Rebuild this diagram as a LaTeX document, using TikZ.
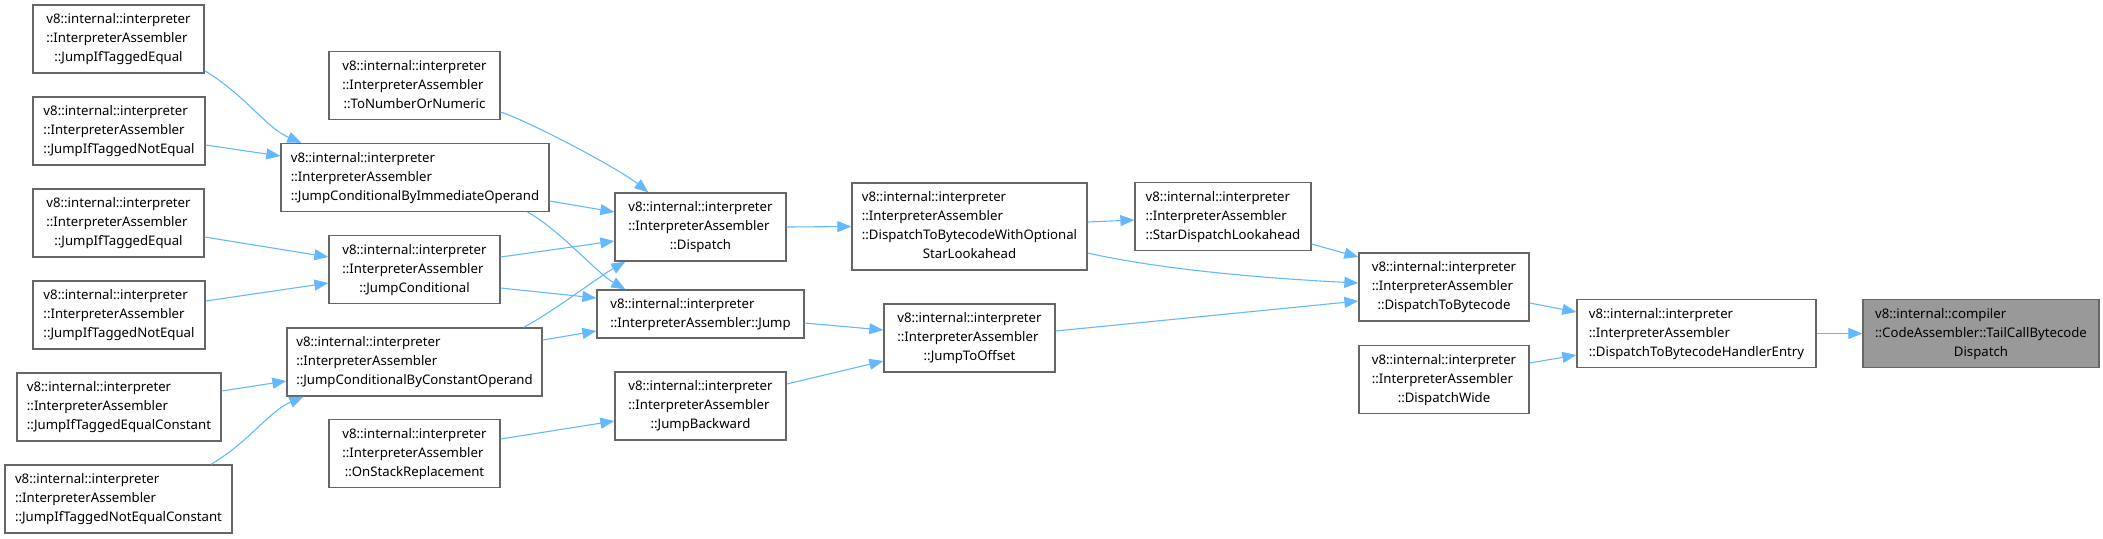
\documentclass[tikz,border=0pt]{standalone}
\usepackage{fontspec}
\setmainfont{Noto Sans}
\usepackage{tikz}
\usetikzlibrary{arrows.meta, calc}
\definecolor{edgeblue}{HTML}{63B8FF}
\definecolor{boxline}{HTML}{666666}
\definecolor{curfill}{HTML}{999999}
\newcommand{\fnlabel}[1]{\begin{tabular}{@{}l@{}}#1\end{tabular}}
\newcommand{\fnlast}[1]{\multicolumn{1}{@{}c@{}}{#1}}

\begin{document}
\begin{tikzpicture}[
    x=0.5pt, y=-0.5pt,
    % Node styles
    fn/.style={rectangle, draw=boxline, fill=white, line width=0.65pt, inner sep=0pt, minimum width=85.5pt, minimum height=34pt, font=\fontsize{6.6}{9.5}\selectfont},
    current/.style={fn, fill=curfill},
    call/.style={-{Triangle[length=7pt, width=5.5pt]}, draw=edgeblue, line width=0.55pt},
]
\useasboundingbox (0,0) rectangle (2103,538);

% === Column 1: JumpIfTagged* callers ===
\node[fn] (jmpIfEq) at (118.5, 39) {\fnlabel{v8::internal::interpreter\\::InterpreterAssembler\\\fnlast{::JumpIfTaggedEqual}}};
\node[fn, minimum width=86pt] (jmpIfNe) at (119, 131) {\fnlabel{v8::internal::interpreter\\::InterpreterAssembler\\\fnlast{::JumpIfTaggedNotEqual}}};
\node[fn] (jmpIfEqB) at (118.5, 223) {\fnlabel{v8::internal::interpreter\\::InterpreterAssembler\\\fnlast{::JumpIfTaggedEqual}}};
\node[fn, minimum width=86pt] (jmpIfNeB) at (119, 315) {\fnlabel{v8::internal::interpreter\\::InterpreterAssembler\\\fnlast{::JumpIfTaggedNotEqual}}};
\node[fn, minimum width=102pt] (jmpIfEqConst) at (119, 407) {\fnlabel{v8::internal::interpreter\\::InterpreterAssembler\\\fnlast{::JumpIfTaggedEqualConstant}}};
\node[fn, minimum width=113.5pt] (jmpIfNeConst) at (118.5, 499) {\fnlabel{v8::internal::interpreter\\::InterpreterAssembler\\\fnlast{::JumpIfTaggedNotEqualConstant}}};

% === Column 2: JumpConditional* ===
\node[fn] (toNum) at (414.5, 85.5) {\fnlabel{v8::internal::interpreter\\::InterpreterAssembler\\\fnlast{::ToNumberOrNumeric}}};
\node[fn, minimum width=134pt] (jmpCondImm) at (415, 177.5) {\fnlabel{v8::internal::interpreter\\::InterpreterAssembler\\\fnlast{::JumpConditionalByImmediateOperand}}};
\node[fn] (jmpCond) at (414.5, 269.5) {\fnlabel{v8::internal::interpreter\\::InterpreterAssembler\\\fnlast{::JumpConditional}}};
\node[fn, minimum width=127.5pt] (jmpCondConst) at (414.5, 362) {\fnlabel{v8::internal::interpreter\\::InterpreterAssembler\\\fnlast{::JumpConditionalByConstantOperand}}};
\node[fn] (osr) at (414.5, 453.5) {\fnlabel{v8::internal::interpreter\\::InterpreterAssembler\\\fnlast{::OnStackReplacement}}};

% === Column 3: Dispatch / Jump ===
\node[fn] (dispatch) at (700.5, 227) {\fnlabel{v8::internal::interpreter\\::InterpreterAssembler\\\fnlast{::Dispatch}}};
\node[fn, minimum width=103.5pt, minimum height=24pt] (jump) at (700.5, 314) {\fnlabel{v8::internal::interpreter\\\fnlast{::InterpreterAssembler::Jump}}};
\node[fn] (jumpBack) at (700.5, 406) {\fnlabel{v8::internal::interpreter\\::InterpreterAssembler\\\fnlast{::JumpBackward}}};

% === Column 4 ===
\node[fn, minimum width=117.5pt, minimum height=43.5pt] (dispatchOpt) at (969.5, 226.5) {\fnlabel{v8::internal::interpreter\\::InterpreterAssembler\\::DispatchToBytecodeWithOptional\\\fnlast{StarLookahead}}};
\node[fn] (jumpOffset) at (969.5, 338) {\fnlabel{v8::internal::interpreter\\::InterpreterAssembler\\\fnlast{::JumpToOffset}}};

% === Column 5-6 ===
\node[fn, minimum width=88pt] (starLook) at (1223, 216.5) {\fnlabel{v8::internal::interpreter\\::InterpreterAssembler\\\fnlast{::StarDispatchLookahead}}};
\node[fn, minimum width=85pt] (toBytecode) at (1444, 287) {\fnlabel{v8::internal::interpreter\\::InterpreterAssembler\\\fnlast{::DispatchToBytecode}}};
\node[fn, minimum width=85pt] (dispatchWide) at (1444, 379.5) {\fnlabel{v8::internal::interpreter\\::InterpreterAssembler\\\fnlast{::DispatchWide}}};

% === Right: entry and current function ===
\node[fn, minimum width=119.5pt] (handlerEntry) at (1696.5, 333.5) {\fnlabel{v8::internal::interpreter\\::InterpreterAssembler\\\fnlast{::DispatchToBytecodeHandlerEntry}}};
\node[current, minimum width=118pt] (tailCall) at (1981, 333.5) {\fnlabel{v8::internal::compiler\\::CodeAssembler::TailCallBytecode\\\fnlast{Dispatch}}};

% === Calls into JumpConditional* ===
\draw[call] ($(jmpIfEq.south east)+(0,-3)$) .. controls +(40,24) and +(-35,-15) .. ($(jmpCondImm.north west)+(21,0)$);
\draw[call] ($(jmpIfNe.east)+(0,14)$) -- ($(jmpCondImm.west)+(0,-21.5)$);
\draw[call] ($(jmpIfEqB.east)+(0,14)$) -- ($(jmpCond.west)+(0,-12.5)$);
\draw[call] ($(jmpIfNeB.east)+(0,-14)$) -- ($(jmpCond.west)+(0,13.5)$);
\draw[call] ($(jmpIfEqConst.east)+(0,-16)$) -- ($(jmpCondConst.west)+(0,19)$);
\draw[call] ($(jmpIfNeConst.north)+(92.5,0)$) .. controls +(40,-24) and +(-35,15) .. ($(jmpCondConst.south west)+(17,0)$);

% === Calls into Dispatch / Jump ===
\draw[call] ($(toNum.east)+(0,26.5)$) .. controls +(30,10) and +(-30,-24) .. ($(dispatch.north west)+(34,0)$);
\draw[call] ($(jmpCondImm.east)+(0,23.5)$) -- ($(dispatch.west)+(0,-15)$);
\draw[call] ($(jmpCondImm.south east)+(-22,0)$) .. controls +(30,16) and +(-28,-16) .. ($(jump.north west)+(29,0)$);
\draw[call] ($(jmpCond.east)+(0,-12.5)$) -- ($(dispatch.west)+(0,14)$);
\draw[call] ($(jmpCond.east)+(0,18.5)$) -- ($(jump.west)+(0,-16)$);
\draw[call] ($(jmpCondConst.north east)+(-19,0)$) .. controls +(30,-16) and +(-28,16) .. ($(dispatch.south west)+(11,0)$);
\draw[call] ($(jmpCondConst.east)+(0,-22)$) -- ($(jump.west)+(0,17)$);
\draw[call] ($(osr.east)+(0,-14.5)$) -- ($(jumpBack.west)+(0,15)$);

% === Middle ===
\draw[call] (dispatch.east) -- (dispatchOpt.west);
\draw[call] ($(jump.east)+(0,9)$) -- ($(jumpOffset.west)+(0,-8)$);
\draw[call] ($(jumpBack.east)+(0,-22)$) -- ($(jumpOffset.west)+(0,23)$);
\draw[call] ($(dispatchOpt.east)+(0,-4.5)$) -- ($(starLook.west)+(0,3.5)$);
\draw[call] ($(dispatchOpt.east)+(0,26.5)$) .. controls +(80,18) and +(-80,-4) .. ($(toBytecode.west)+(0,-4)$);
\draw[call] ($(starLook.east)+(0,27.5)$) -- ($(toBytecode.west)+(0,-30)$);
\draw[call] ($(jumpOffset.east)+(0,-7)$) -- ($(toBytecode.west)+(0,14)$);

% === Right ===
\draw[call] ($(toBytecode.east)+(0,16)$) -- ($(handlerEntry.west)+(0,-21.5)$);
\draw[call] ($(dispatchWide.east)+(0,-16.5)$) -- ($(handlerEntry.west)+(0,21.5)$);
\draw[call] (handlerEntry.east) -- (tailCall.west);

\end{tikzpicture}
\end{document}
